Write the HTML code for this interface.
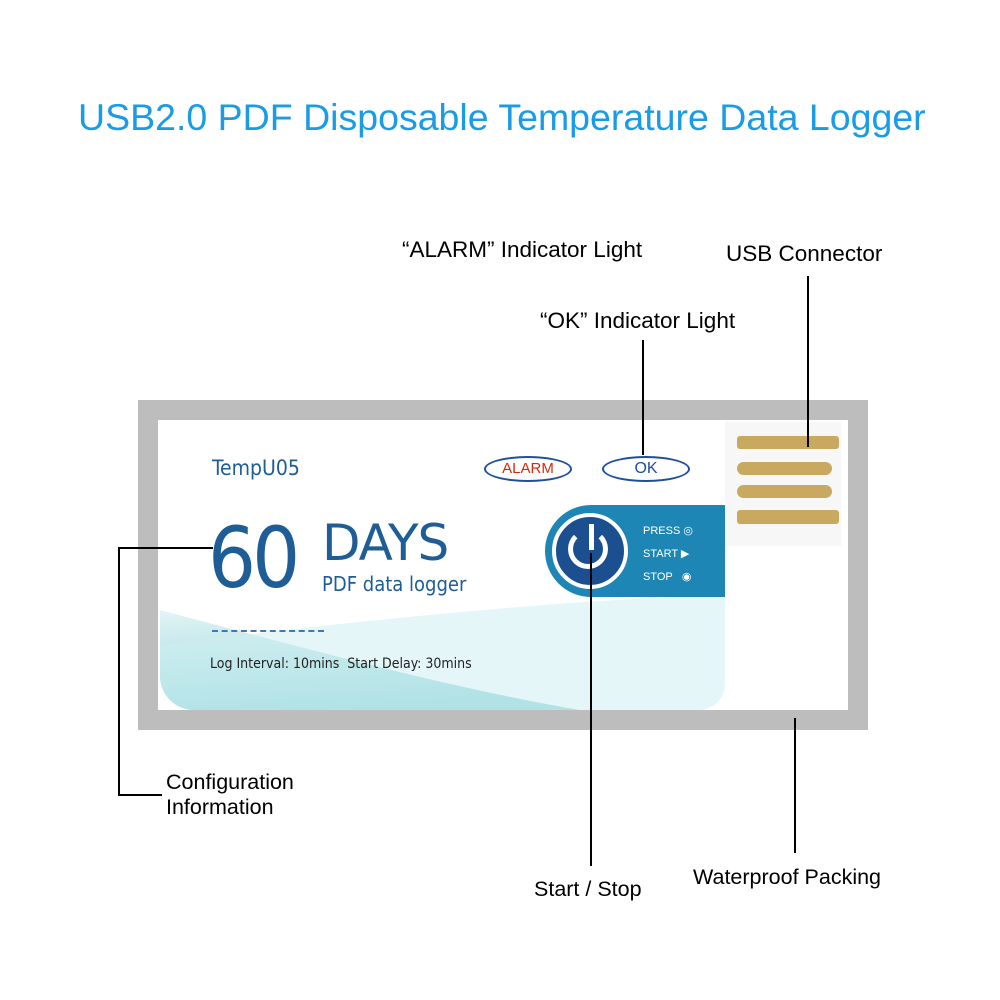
<!DOCTYPE html>
<html><head><style>
html,body{margin:0;width:1000px;height:1000px;overflow:hidden}
body{background:#fff;position:relative;font-family:"Liberation Sans",sans-serif}
.t{position:absolute;white-space:nowrap;color:#000;font-size:22.5px}
.l{position:absolute;background:#000}
</style></head><body>
<div class="t" style="left:78px;top:96px;font-size:37.5px;color:#1a9be6">USB2.0 PDF Disposable Temperature Data Logger</div>
<div class="t" style="left:402px;top:237px">“ALARM” Indicator Light</div>
<div class="t" style="left:726px;top:241px">USB Connector</div>
<div class="t" style="left:540px;top:308px">“OK” Indicator Light</div>
<div class="t" style="left:166px;top:770px;line-height:25px;font-size:21.5px">Configuration<br>Information</div>
<div class="t" style="left:534px;top:877px;font-size:21.5px">Start / Stop</div>
<div class="t" style="left:693px;top:865px;font-size:21.5px">Waterproof Packing</div>

<div style="position:absolute;left:138px;top:400px;width:690px;height:290px;border:20px solid #bdbdbd;background:#fff"></div>
<!-- card -->
<div style="position:absolute;left:160px;top:420px;width:565px;height:290px;border-radius:34px 0 26px 34px;background:#fff;overflow:hidden">
 <svg width="565" height="290" style="position:absolute;left:0;top:0">
  <defs><linearGradient id="g" x1="0" y1="0" x2="0.3" y2="1"><stop offset="0" stop-color="#e3f4f5"/><stop offset="1" stop-color="#8fd4da"/></linearGradient></defs>
  <path d="M0 190 C150 230 300 270 420 290 L0 290Z" fill="url(#g)"/>
  <path d="M0 225 C200 200 400 180 565 175 L565 290 L0 290Z" fill="#cdeef0" opacity=".55"/>
 </svg>
 <div style="position:absolute;left:52px;top:36px;color:#1f5d96;font-size:21px;font-family:'DejaVu Sans Condensed','DejaVu Sans',sans-serif">TempU05</div>
 <div style="position:absolute;left:324px;top:36px;width:84px;height:22px;border:2px solid #1f4ea0;border-radius:50%;color:#d02a10;font-size:15px;text-align:center;line-height:22px">ALARM</div>
 <div style="position:absolute;left:442px;top:36px;width:84px;height:22px;border:2px solid #1f4ea0;border-radius:50%;color:#1f4ea0;font-size:16px;text-align:center;line-height:22px">OK</div>
 <div style="position:absolute;left:48px;top:98px;color:#1f5d96;font-size:84px;letter-spacing:-4px;font-family:'DejaVu Sans Condensed',sans-serif;line-height:80px">60</div>
 <div style="position:absolute;left:162px;top:94px;color:#1f5d96;font-size:50px;font-family:'DejaVu Sans',sans-serif;letter-spacing:-1px">DAYS</div>
 <div style="position:absolute;left:162px;top:152px;color:#1f5d96;font-size:20px;font-family:'DejaVu Sans Condensed',sans-serif">PDF data logger</div>
 <div style="position:absolute;left:52px;top:210px;width:112px;border-top:2px dashed #3a7ab8"></div>
 <div style="position:absolute;left:50px;top:236px;color:#222;font-size:14px;font-family:'DejaVu Sans Condensed',sans-serif">Log Interval: 10mins&nbsp; Start Delay: 30mins</div>
 <div style="position:absolute;left:385px;top:85px;width:180px;height:92px;background:#1d86b4;border-radius:46px 0 0 46px"></div>
 <div style="position:absolute;left:392px;top:93px;width:68px;height:68px;border-radius:50%;background:#1b4f8f;border:4px solid #fff;box-sizing:content-box"></div>
 <div style="position:absolute;left:408px;top:109px;width:30px;height:30px;border-radius:50%;border:5px solid #fff;border-top-color:transparent"></div>
 <div style="position:absolute;left:429px;top:104px;width:5px;height:26px;background:#fff"></div>
 <div style="position:absolute;left:483px;top:100px;color:#fff;font-size:11px;line-height:23px">PRESS ◎<br>START ▶<br>STOP&nbsp;&nbsp; ◉</div>
</div>
<!-- usb -->
<div style="position:absolute;left:725px;top:422px;width:116px;height:124px;background:#f7f7f7"></div>
<div style="position:absolute;left:737px;top:436px;width:102px;height:13px;background:#c9a85f;border-radius:3px"></div>
<div style="position:absolute;left:737px;top:462px;width:95px;height:13px;background:#c9a85f;border-radius:7px"></div>
<div style="position:absolute;left:737px;top:485px;width:95px;height:13px;background:#c9a85f;border-radius:7px"></div>
<div style="position:absolute;left:737px;top:510px;width:102px;height:14px;background:#c9a85f;border-radius:3px"></div>
<!-- lines -->
<div class="l" style="left:118px;top:547px;width:95px;height:2px"></div>
<div class="l" style="left:118px;top:547px;width:2px;height:249px"></div>
<div class="l" style="left:118px;top:794px;width:44px;height:2px"></div>
<div class="l" style="left:590px;top:553px;width:2px;height:313px"></div>
<div class="l" style="left:794px;top:718px;width:2px;height:135px"></div>
<div class="l" style="left:642px;top:340px;width:2px;height:115px"></div>
<div class="l" style="left:807px;top:276px;width:2px;height:171px"></div>
</body></html>
